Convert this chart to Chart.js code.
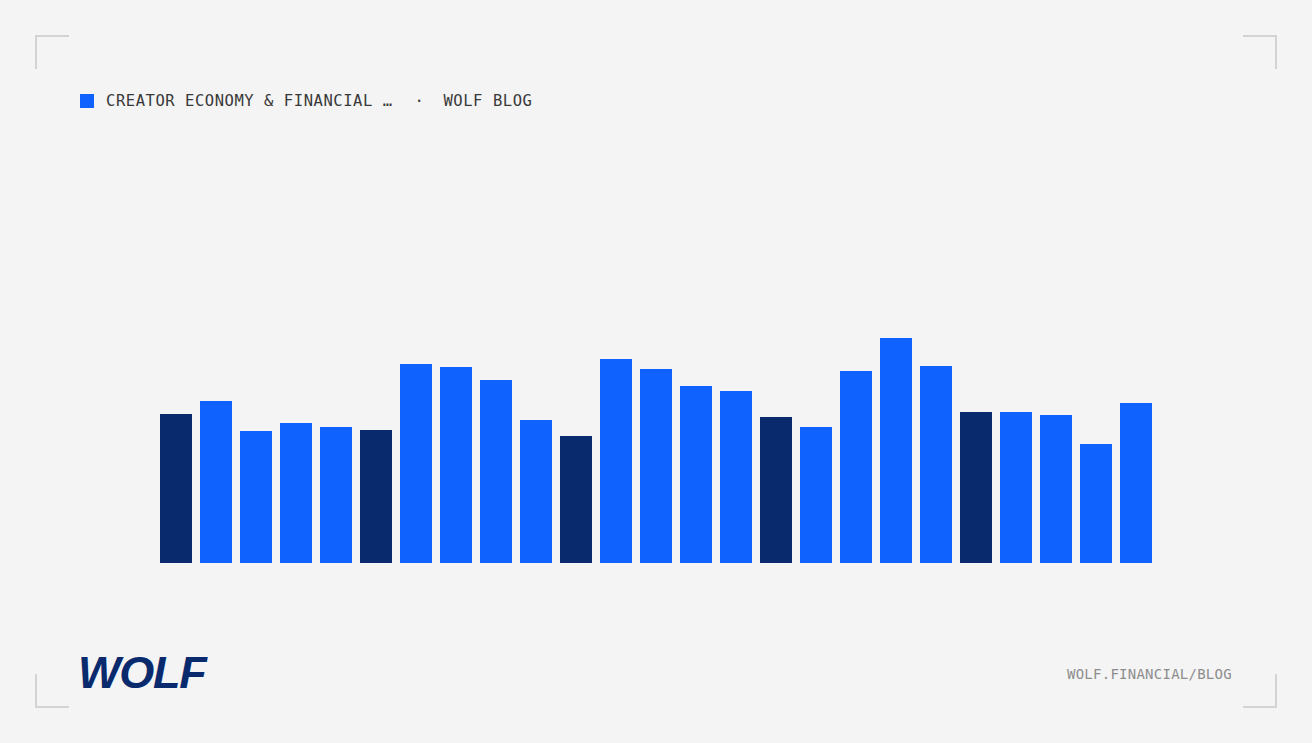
<!DOCTYPE html>
<html>
<head>
<meta charset="utf-8">
<script src="https://cdn.jsdelivr.net/npm/chart.js@4"></script>
<style>
  html, body { margin: 0; padding: 0; }
  body {
    width: 1312px; height: 743px; background: #f4f4f4;
    position: relative; overflow: hidden;
    font-family: "DejaVu Sans Mono", "Liberation Mono", monospace;
  }
  .corner { position: absolute; width: 32px; height: 32px; border: 0 solid #d3d3d3; }
  .tl { left: 35px; top: 35px; border-left-width: 2px; border-top-width: 2px; }
  .tr { left: 1243px; top: 35px; border-right-width: 2px; border-top-width: 2px; }
  .bl { left: 35px; top: 674px; border-left-width: 2px; border-bottom-width: 2px; }
  .br { left: 1243px; top: 674px; border-right-width: 2px; border-bottom-width: 2px; }
  .title {
    position: absolute; left: 80px; top: 90px; height: 22px;
    display: flex; align-items: center;
    font-size: 15.5px; color: #393939; letter-spacing: 0.55px; white-space: pre;
  }
  .title .sq { width: 14px; height: 14px; background: #0f62fe; margin-right: 12px; }
  .title .dot { margin: 0 19px 0 22px; }
  .logo {
    position: absolute; left: 78px; top: 648px;
    font-family: "Liberation Sans", Arial, sans-serif; font-weight: 900; font-style: italic;
    font-size: 45px; letter-spacing: -1.2px; color: #0a2a6e; line-height: 50px;
  }
  .url {
    position: absolute; left: 1067px; top: 666px;
    font-size: 14px; color: #8d8d8d; letter-spacing: 0.25px;
  }
  #wrap { position: absolute; left: 156px; top: 263px; width: 1000px; height: 300px; }
</style>
</head>
<body>
<div class="corner tl"></div>
<div class="corner tr"></div>
<div class="corner bl"></div>
<div class="corner br"></div>

<div class="title"><span class="sq"></span><span>CREATOR ECONOMY &amp; FINANCIAL …</span><span class="dot">·</span><span>WOLF BLOG</span></div>

<div id="wrap"><canvas id="chart"></canvas></div>

<div class="logo">WOLF</div>
<div class="url">WOLF.FINANCIAL/BLOG</div>

<script>
// values (no axis shown, so units are relative)
const periods = ['1', '2', '3', '4', '5', '6', '7', '8', '9', '10', '11', '12', '13',
  '14', '15', '16', '17', '18', '19', '20', '21', '22', '23', '24', '25'];
const values = [149, 162, 132, 140, 136, 133, 199, 196, 183, 143, 127, 204, 194,
  177, 172, 146, 136, 192, 225, 197, 151, 151, 148, 119, 160];

const BLUE = '#0f62fe';
const NAVY = '#0a2a6e';

const ctx = document.getElementById('chart').getContext('2d');
new Chart(ctx, {
  type: 'bar',
  data: {
    labels: periods,
    datasets: [{
      data: values,
      // every fifth bar is drawn dark
      backgroundColor: (c) => (c.dataIndex % 5 === 0 ? NAVY : BLUE),
      borderWidth: 0,
      categoryPercentage: 1,
      barPercentage: 0.8
    }]
  },
  options: {
    responsive: true,
    maintainAspectRatio: false,
    animation: false,
    layout: { padding: 0 },
    plugins: { legend: { display: false }, tooltip: { enabled: false } },
    scales: {
      x: { display: false },
      y: { display: false, min: 0, max: 300 }
    }
  }
});
</script>
</body>
</html>
